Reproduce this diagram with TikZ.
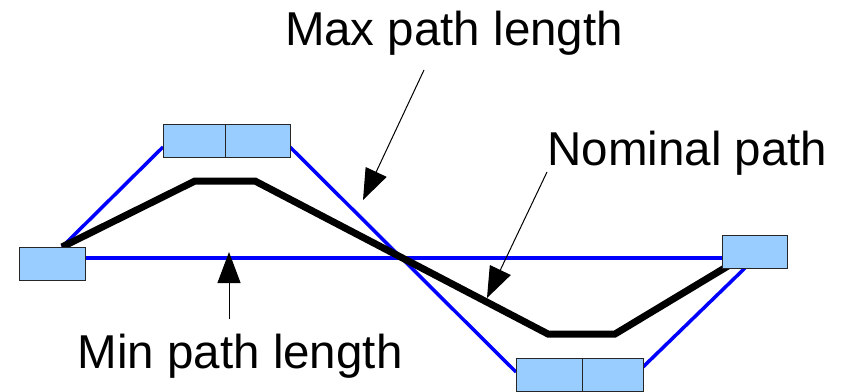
\documentclass[tikz,border=0pt]{standalone}
\usepackage{fontspec}
\setmainfont{Liberation Sans}
\usetikzlibrary{arrows.meta}
\definecolor{boxfill}{HTML}{99CCFF}
\definecolor{pureblue}{RGB}{0,0,255}
\begin{document}
\begin{tikzpicture}[x=1pt,y=-1pt,
  box/.style={draw=black!85,line width=0.9pt,fill=boxfill,inner sep=0pt,minimum height=33pt},
  bline/.style={draw=pureblue,line width=3.5pt},
  nominal/.style={draw=black,line width=7pt,line join=miter},
  label/.style={inner sep=0pt,anchor=base west,font=\fontsize{47.5}{56}\selectfont},
  pointer/.style={draw=black,line width=1pt,-{Triangle[length=31pt,width=23pt]}}]
\useasboundingbox (0,0) rectangle (842,391);
% path points
\coordinate (p0) at (62,247);
\coordinate (n1) at (195,181);
\coordinate (n2) at (255,181);
\coordinate (n3) at (548,334);
\coordinate (n4) at (615,334);
\coordinate (n5) at (728,266);
\coordinate (m1) at (163,147);
\coordinate (m2) at (290,147);
\coordinate (m3) at (516,372);
\coordinate (m4) at (643,367);
\coordinate (m5) at (745,268);
\coordinate (h0) at (85,258);
\coordinate (h1) at (722,258);
% blue paths
\draw[bline] (p0) -- (m1);
\draw[bline] (m2) -- (m3);
\draw[bline] (m4) -- (m5);
\draw[bline] (h0) -- (h1);
% nominal path
\draw[nominal] (p0) -- (n1) -- (n2) -- (n3) -- (n4) -- (n5);
% boxes
\node[box,minimum width=66pt] (L) at (52,263.5) {};
\node[box,minimum width=62pt] (T1) at (194,140.5) {};
\node[box,minimum width=65pt] (T2) at (257.5,140.5) {};
\node[box,minimum width=65pt] (R) at (754.5,251.5) {};
\node[box,minimum width=66pt] (B1) at (549,374.5) {};
\node[box,minimum width=61pt] (B2) at (612.5,374.5) {};
% labels
\node[label] (maxl) at (284.8,45) {Max path length};
\node[label] (noml) at (547.4,165.5) {Nominal path};
\node[label] (minl) at (77.5,368) {Min path length};
% pointers
\coordinate (a1s) at (424,70);
\coordinate (a1e) at (363,200);
\coordinate (a2s) at (547,172);
\coordinate (a2e) at (487,298);
\coordinate (a3s) at (229,319);
\coordinate (a3e) at (229,252);
\draw[pointer] (a1s) -- (a1e);
\draw[pointer] (a2s) -- (a2e);
\draw[pointer] (a3s) -- (a3e);
\end{tikzpicture}
\end{document}
